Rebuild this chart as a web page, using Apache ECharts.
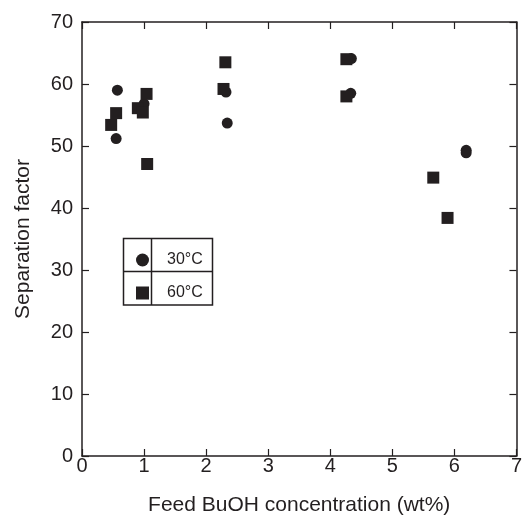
<!DOCTYPE html>
<html>
<head>
<meta charset="utf-8">
<script src="https://cdn.jsdelivr.net/npm/echarts@6/dist/echarts.min.js"></script>
<style>
  html, body { margin: 0; padding: 0; background: #fff; }
  #separation-chart { width: 525px; height: 521px; }
</style>
</head>
<body>
<div id="separation-chart"></div>
<script>
// feed BuOH concentration (wt%) vs separation factor
const seriesNames = ['30°C', '60°C']
const data30C = [
  [0.57, 59.0], [0.55, 51.2], [1.0, 56.8], [2.32, 58.7], [2.34, 53.7],
  [4.34, 64.1], [4.33, 58.5], [6.19, 49.3], [6.19, 48.9]
]
const data60C = [
  [0.47, 53.4], [0.55, 55.3], [0.90, 56.1], [0.98, 55.4], [1.04, 58.4],
  [1.05, 47.1], [2.31, 63.5], [2.28, 59.2], [4.26, 64.0], [4.26, 58.0],
  [5.66, 44.9], [5.89, 38.4]
]
const xTicks = [0, 1, 2, 3, 4, 5, 6, 7]
const yTicks = [0, 10, 20, 30, 40, 50, 60, 70]

const ink = '#231f20'
const font = 'Liberation Sans, Arial, sans-serif'

const axisBase = {
  type: 'value',
  axisLine: { show: true, onZero: false, lineStyle: { color: ink, width: 1.5 } },
  axisTick: { show: true, inside: true, length: 7, lineStyle: { color: ink, width: 1.2 } },
  splitLine: { show: false }
}

const option = {
  animation: false,
  backgroundColor: '#fff',
  grid: { left: 82, right: 2, top: 22, bottom: 60, containLabel: false },
  xAxis: [
    Object.assign({}, axisBase, {
      position: 'bottom',
      min: xTicks[0],
      max: xTicks[xTicks.length - 1],
      interval: 1,
      name: 'Feed BuOH concentration (wt%)',
      nameLocation: 'middle',
      nameGap: 39,
      nameTextStyle: { color: ink, fontSize: 21, fontFamily: font },
      axisLabel: { color: ink, fontSize: 20, fontFamily: font, margin: 0 }
    }),
    Object.assign({}, axisBase, {
      position: 'top',
      min: xTicks[0],
      max: xTicks[xTicks.length - 1],
      interval: 1,
      axisLabel: { show: false }
    })
  ],
  yAxis: [
    Object.assign({}, axisBase, {
      position: 'left',
      min: yTicks[0],
      max: yTicks[yTicks.length - 1],
      interval: 10,
      name: 'Separation factor',
      nameLocation: 'middle',
      nameGap: 48,
      nameTextStyle: { color: ink, fontSize: 21, fontFamily: font },
      axisLabel: { color: ink, fontSize: 20, fontFamily: font, margin: 9 }
    }),
    Object.assign({}, axisBase, {
      position: 'right',
      min: yTicks[0],
      max: yTicks[yTicks.length - 1],
      interval: 10,
      axisLabel: { show: false }
    })
  ],
  legend: {
    orient: 'vertical',
    left: 131,
    top: 245,
    itemWidth: 13,
    itemHeight: 13,
    itemGap: 13,
    textStyle: { color: ink, fontSize: 16, fontFamily: font, lineHeight: 20, padding: [0, 0, 0, 13] },
    data: [
      { name: seriesNames[0], icon: 'circle' },
      { name: seriesNames[1], icon: 'rect' }
    ]
  },
  graphic: [
    { type: 'rect', shape: { x: 123.5, y: 238.5, width: 89, height: 66.5 }, style: { fill: 'none', stroke: ink, lineWidth: 1.5 } },
    { type: 'line', shape: { x1: 151.5, y1: 238.5, x2: 151.5, y2: 305 }, style: { stroke: ink, lineWidth: 1.5 } },
    { type: 'line', shape: { x1: 123.5, y1: 271.5, x2: 212.5, y2: 271.5 }, style: { stroke: ink, lineWidth: 1.5 } }
  ],
  series: [
    {
      name: seriesNames[0],
      type: 'scatter',
      symbol: 'circle',
      symbolSize: 11,
      itemStyle: { color: ink, opacity: 1 },
      data: data30C
    },
    {
      name: seriesNames[1],
      type: 'scatter',
      symbol: 'rect',
      symbolSize: 12,
      itemStyle: { color: ink, opacity: 1 },
      data: data60C
    }
  ]
}

const chart = echarts.init(document.getElementById('separation-chart'))
chart.setOption(option)
</script>
</body>
</html>
